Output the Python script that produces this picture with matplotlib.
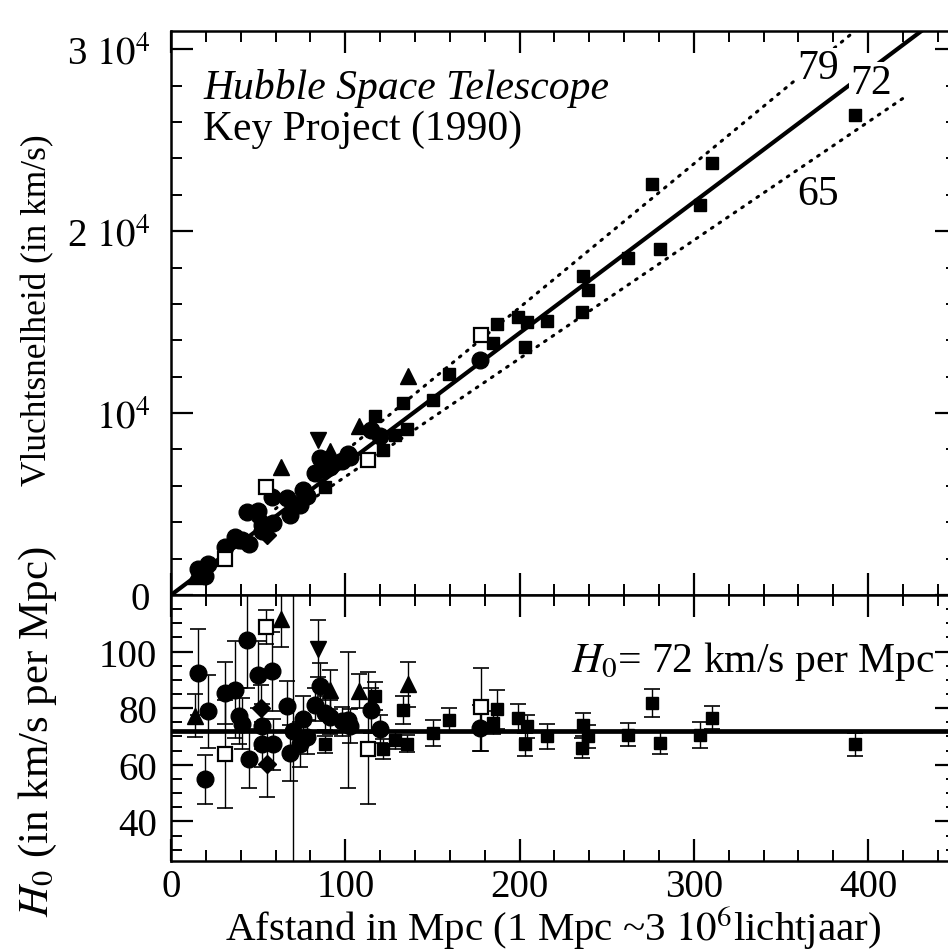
import numpy as np
import matplotlib
matplotlib.use("Agg")
import matplotlib.pyplot as plt
from matplotlib.ticker import MultipleLocator

plt.rcParams['font.family'] = ['Liberation Serif', 'DejaVu Serif']
plt.rcParams['mathtext.fontset'] = 'stix'

# Hubble Key Project galaxies: distance (Mpc), H0 (km/s per Mpc), errors, marker kind
dist = [13.8, 15.7, 19.5, 21.4, 31.0, 31.0, 36.7, 39.2, 40.5, 43.8,
        44.9, 50.1, 51.8, 52.0, 52.0, 54.5, 54.9, 57.8, 58.7, 62.9,
        66.4, 68.3, 69.8, 74.0, 76.0, 77.9, 82.6, 84.6, 85.5, 88.4,
        88.4, 91.3, 91.3, 97.9, 101.8, 102.8, 107.9, 113.2, 114.5, 117.0,
        120.0, 121.6, 128.5, 133.3, 135.2, 136.2, 150.5, 159.7, 177.1, 177.7,
        185.0, 186.9, 199.3, 203.1, 204.0, 215.5, 235.6, 236.6, 239.4, 262.4,
        275.8, 280.6, 303.5, 310.2, 392.4]
h0 = [77.4, 92.5, 54.8, 78.9, 63.9, 85.4, 86.6, 77.2, 74.5, 104.2,
      62.2, 91.9, 80.1, 73.6, 67.2, 108.6, 60.1, 93.1, 67.2, 111.5,
      80.6, 64.2, 72.0, 67.2, 76.3, 69.8, 81.3, 101.0, 87.8, 78.4,
      67.2, 86.6, 77.0, 75.3, 75.9, 73.6, 86.0, 65.7, 79.3, 84.2,
      72.7, 65.7, 68.6, 79.3, 67.4, 88.4, 71.3, 76.0, 73.0, 80.5,
      74.9, 79.6, 76.6, 67.2, 73.6, 70.0, 66.0, 74.2, 70.0, 70.6,
      81.9, 67.8, 70.6, 76.6, 67.2]
err_lo = [7.5, 15.0, 8.7, 13.0, 19.0, 11.0, 17.0, 10.0, 9.0, 17.0,
          10.5, 12.0, 8.0, 8.0, 8.0, 6.0, 11.4, 14.0, 9.0, 10.0,
          9.0, 10.0, 48.0, 8.0, 8.0, 6.0, 6.0, 10.0, 8.0, 6.0,
          3.0, 7.0, 6.0, 5.0, 24.0, 6.0, 6.0, 19.4, 8.0, 5.0,
          5.0, 3.5, 3.0, 5.0, 3.0, 8.0, 4.5, 4.0, 8.0, 15.8,
          4.0, 7.0, 5.0, 4.0, 4.0, 4.5, 3.5, 4.0, 4.0, 4.0,
          5.0, 4.0, 4.6, 4.0, 4.0]
err_hi = [7.5, 15.5, 8.7, 13.0, 19.0, 11.0, 17.0, 10.0, 9.0, 17.0,
          10.5, 12.0, 8.0, 8.0, 8.0, 6.0, 11.4, 14.0, 9.0, 10.0,
          9.0, 10.0, 50.0, 8.0, 8.0, 6.0, 6.0, 10.0, 8.0, 6.0,
          3.0, 7.0, 6.0, 5.0, 24.0, 6.0, 6.0, 27.0, 8.0, 5.0,
          5.0, 3.5, 3.0, 5.0, 3.0, 8.0, 4.5, 4.0, 8.0, 13.6,
          4.0, 7.0, 5.0, 4.0, 4.0, 4.5, 3.5, 4.0, 4.0, 4.0,
          5.0, 4.0, 4.6, 4.0, 4.0]
# c = gevulde cirkel, s = gevuld vierkant, o = open vierkant,
# t = driehoek, v = omgekeerde driehoek, d = ruit
kind = list("tcccocccc" "c"
            "ccdccodcct"
            "cccccccvcc"
            "stcccctocs"
            "csssstsscos"
            "ssssssssssssss")

h_fit = 72
h_high = 79
h_low = 65

dist = np.array(dist)
h0 = np.array(h0)
err_lo = np.array(err_lo)
err_hi = np.array(err_hi)
vel = dist * h0

styles = {
    'c': dict(marker='o', ms=12, mfc='black', mec='black'),
    's': dict(marker='s', ms=8.5, mfc='black', mec='black'),
    'o': dict(marker='s', ms=10, mfc='white', mec='black', mew=1.6),
    't': dict(marker='^', ms=11, mfc='black', mec='black'),
    'v': dict(marker='v', ms=11, mfc='black', mec='black'),
    'd': dict(marker='D', ms=9, mfc='black', mec='black'),
}

fig = plt.figure(figsize=(9.48, 9.53), dpi=100)
ax1 = fig.add_axes([0.1804, 0.3746, 0.8291, 0.5918])
ax2 = fig.add_axes([0.1804, 0.0955, 0.8291, 0.2791])

xmax = 451

# bovenste paneel: snelheid tegen afstand
x = np.array([0, xmax])
ax1.plot(x, h_fit * x, color='black', lw=3.0, zorder=2)
xd = np.array([60, 31000 / h_high])
ax1.plot(xd, h_high * xd, color='black', lw=2.2, ls=(0, (0.6, 2.4)),
         dash_capstyle='round', zorder=2)
xd = np.array([62, 420])
ax1.plot(xd, h_low * xd, color='black', lw=2.2, ls=(0, (0.6, 2.4)),
         dash_capstyle='round', zorder=2)

for k in styles:
    sel = np.array([c == k for c in kind])
    ax1.plot(dist[sel], vel[sel], ls='none', zorder=3, **styles[k])

ax1.set_xlim(0, xmax)
ax1.set_ylim(0, 31000)
ax1.set_yticks([0, 10000, 20000, 30000])
ax1.set_yticklabels(['0', r'$10^{4}$', r'2 $10^{4}$', r'3 $10^{4}$'])
ax1.yaxis.set_minor_locator(MultipleLocator(2000))
ax1.set_xticks(np.arange(0, 401, 100))
ax1.xaxis.set_minor_locator(MultipleLocator(20))
ax1.tick_params(labelbottom=False)

ax1.text(0.0407, 0.9007, 'Hubble Space Telescope', transform=ax1.transAxes,
         fontsize=30, style='italic', va='center', ha='left')
ax1.text(0.0407, 0.826, 'Key Project (1990)', transform=ax1.transAxes,
         fontsize=30, va='center', ha='left')

box = dict(facecolor='white', edgecolor='none', pad=1)
ax1.text(0.823, 0.934, '79', transform=ax1.transAxes, fontsize=30,
         ha='center', va='center', bbox=box, zorder=4)
ax1.text(0.891, 0.908, '72', transform=ax1.transAxes, fontsize=30,
         ha='center', va='center', bbox=box, zorder=4)
ax1.text(0.823, 0.711, '65', transform=ax1.transAxes, fontsize=30,
         ha='center', va='center', bbox=box, zorder=4)

# onderste paneel: H0 per melkwegstelsel met foutbalken
ax2.axhline(h_fit, color='black', lw=3.4, zorder=2)
ax2.errorbar(dist, h0, yerr=[err_lo, err_hi], fmt='none', ecolor='black',
             elinewidth=1.0, capsize=5.5, capthick=1.2, zorder=2)
for k in styles:
    sel = np.array([c == k for c in kind])
    ax2.plot(dist[sel], h0[sel], ls='none', zorder=3, **styles[k])

ax2.set_xlim(0, xmax)
ax2.set_ylim(26, 120)
ax2.set_yticks([40, 60, 80, 100])
ax2.yaxis.set_minor_locator(MultipleLocator(5))
ax2.set_xticks(np.arange(0, 401, 100))
ax2.xaxis.set_minor_locator(MultipleLocator(20))

ax2.text(0.972, 0.752, r'$\mathit{H}_0$= 72 km/s per Mpc', transform=ax2.transAxes,
         fontsize=30, ha='right', va='center')

for ax in (ax1, ax2):
    for sp in ax.spines.values():
        sp.set_linewidth(1.8)
    ax.tick_params(which='both', direction='in', top=True, right=True,
                   labelsize=28)
    ax.tick_params(which='major', length=16, width=1.6)
    ax.tick_params(which='minor', length=8, width=1.4)
ax1.tick_params(axis='y', pad=15)
ax2.tick_params(axis='y', pad=10)
ax2.tick_params(axis='x', pad=5)

fig.text(38 / 948, 1 - 310 / 953, 'Vluchtsnelheid (in km/s)', rotation=90,
         ha='center', va='center', fontsize=25.5)
fig.text(38 / 948, 1 - 732 / 953, r'$\mathit{H}_0$ (in km/s per Mpc)', rotation=90,
         ha='center', va='center', fontsize=31)
fig.text(553 / 948, 1 - 941 / 953, r'Afstand in Mpc (1 Mpc ~3 $10^{6}$lichtjaar)',
         ha='center', va='baseline', fontsize=29.5)

fig.savefig('out.png', dpi=100)
